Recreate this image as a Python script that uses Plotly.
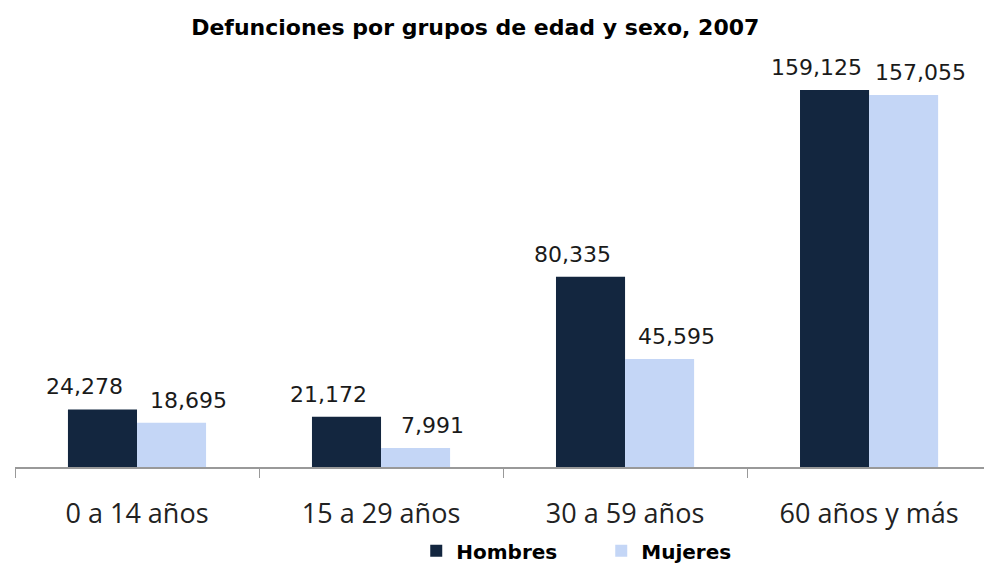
import plotly.graph_objects as go

categories = ["0 a 14 años", "15 a 29 años", "30 a 59 años", "60 años y más"]
hombres = [24278, 21172, 80335, 159125]
mujeres = [18695, 7991, 45595, 157055]

fig = go.Figure()
fig.add_trace(go.Bar(
    x=categories, y=hombres, name="Hombres",
    marker=dict(color="#13263f", line=dict(width=0)),
))
fig.add_trace(go.Bar(
    x=categories, y=mujeres, name="Mujeres",
    marker=dict(color="#c4d6f6", line=dict(width=0)),
))

label_font = dict(family="DejaVu Sans", size=22, color="#1a1a1a")
annotations = []
for c, v in zip(categories, hombres):
    annotations.append(dict(x=c, y=v, xref="x", yref="y", text=f"{v:,}", showarrow=False,
                            xanchor="center", yanchor="bottom", xshift=-53, yshift=8, font=label_font))
for c, v in zip(categories, mujeres):
    annotations.append(dict(x=c, y=v, xref="x", yref="y", text=f"{v:,}", showarrow=False,
                            xanchor="center", yanchor="bottom", xshift=51, yshift=8, font=label_font))

fig.update_layout(
    width=984, height=565,
    margin=dict(l=15, r=0, t=60, b=98, autoexpand=False),
    paper_bgcolor="white", plot_bgcolor="white",
    barmode="group", bargap=0.434, bargroupgap=0,
    title=dict(text="<b>Defunciones por grupos de edad y sexo, 2007</b>",
               x=0.483, xanchor="center", y=0.952, yanchor="middle",
               font=dict(family="DejaVu Sans", size=22, color="#000")),
    xaxis=dict(range=[-0.5, 3.471], automargin=False,
               showline=True, linecolor="#999999", linewidth=1.5,
               ticks="outside", tickson="boundaries", ticklen=9, tickcolor="#999999",
               ticklabelstandoff=22,
               tickfont=dict(family="Open Sans", size=27, color="#222"),
               showgrid=False),
    yaxis=dict(range=[0, 171800], visible=False, showgrid=False, automargin=False),
    legend=dict(orientation="h", x=0.605, xanchor="center", y=-0.206, yanchor="middle",
                font=dict(family="DejaVu Sans", size=20, color="#000", weight="bold"),
                entrywidth=140, entrywidthmode="pixels", itemsizing="constant"),
    annotations=annotations,
    showlegend=True,
)

fig.write_html("out.html", post_script="document.body.style.margin='0';",
               config={"displayModeBar": False})
